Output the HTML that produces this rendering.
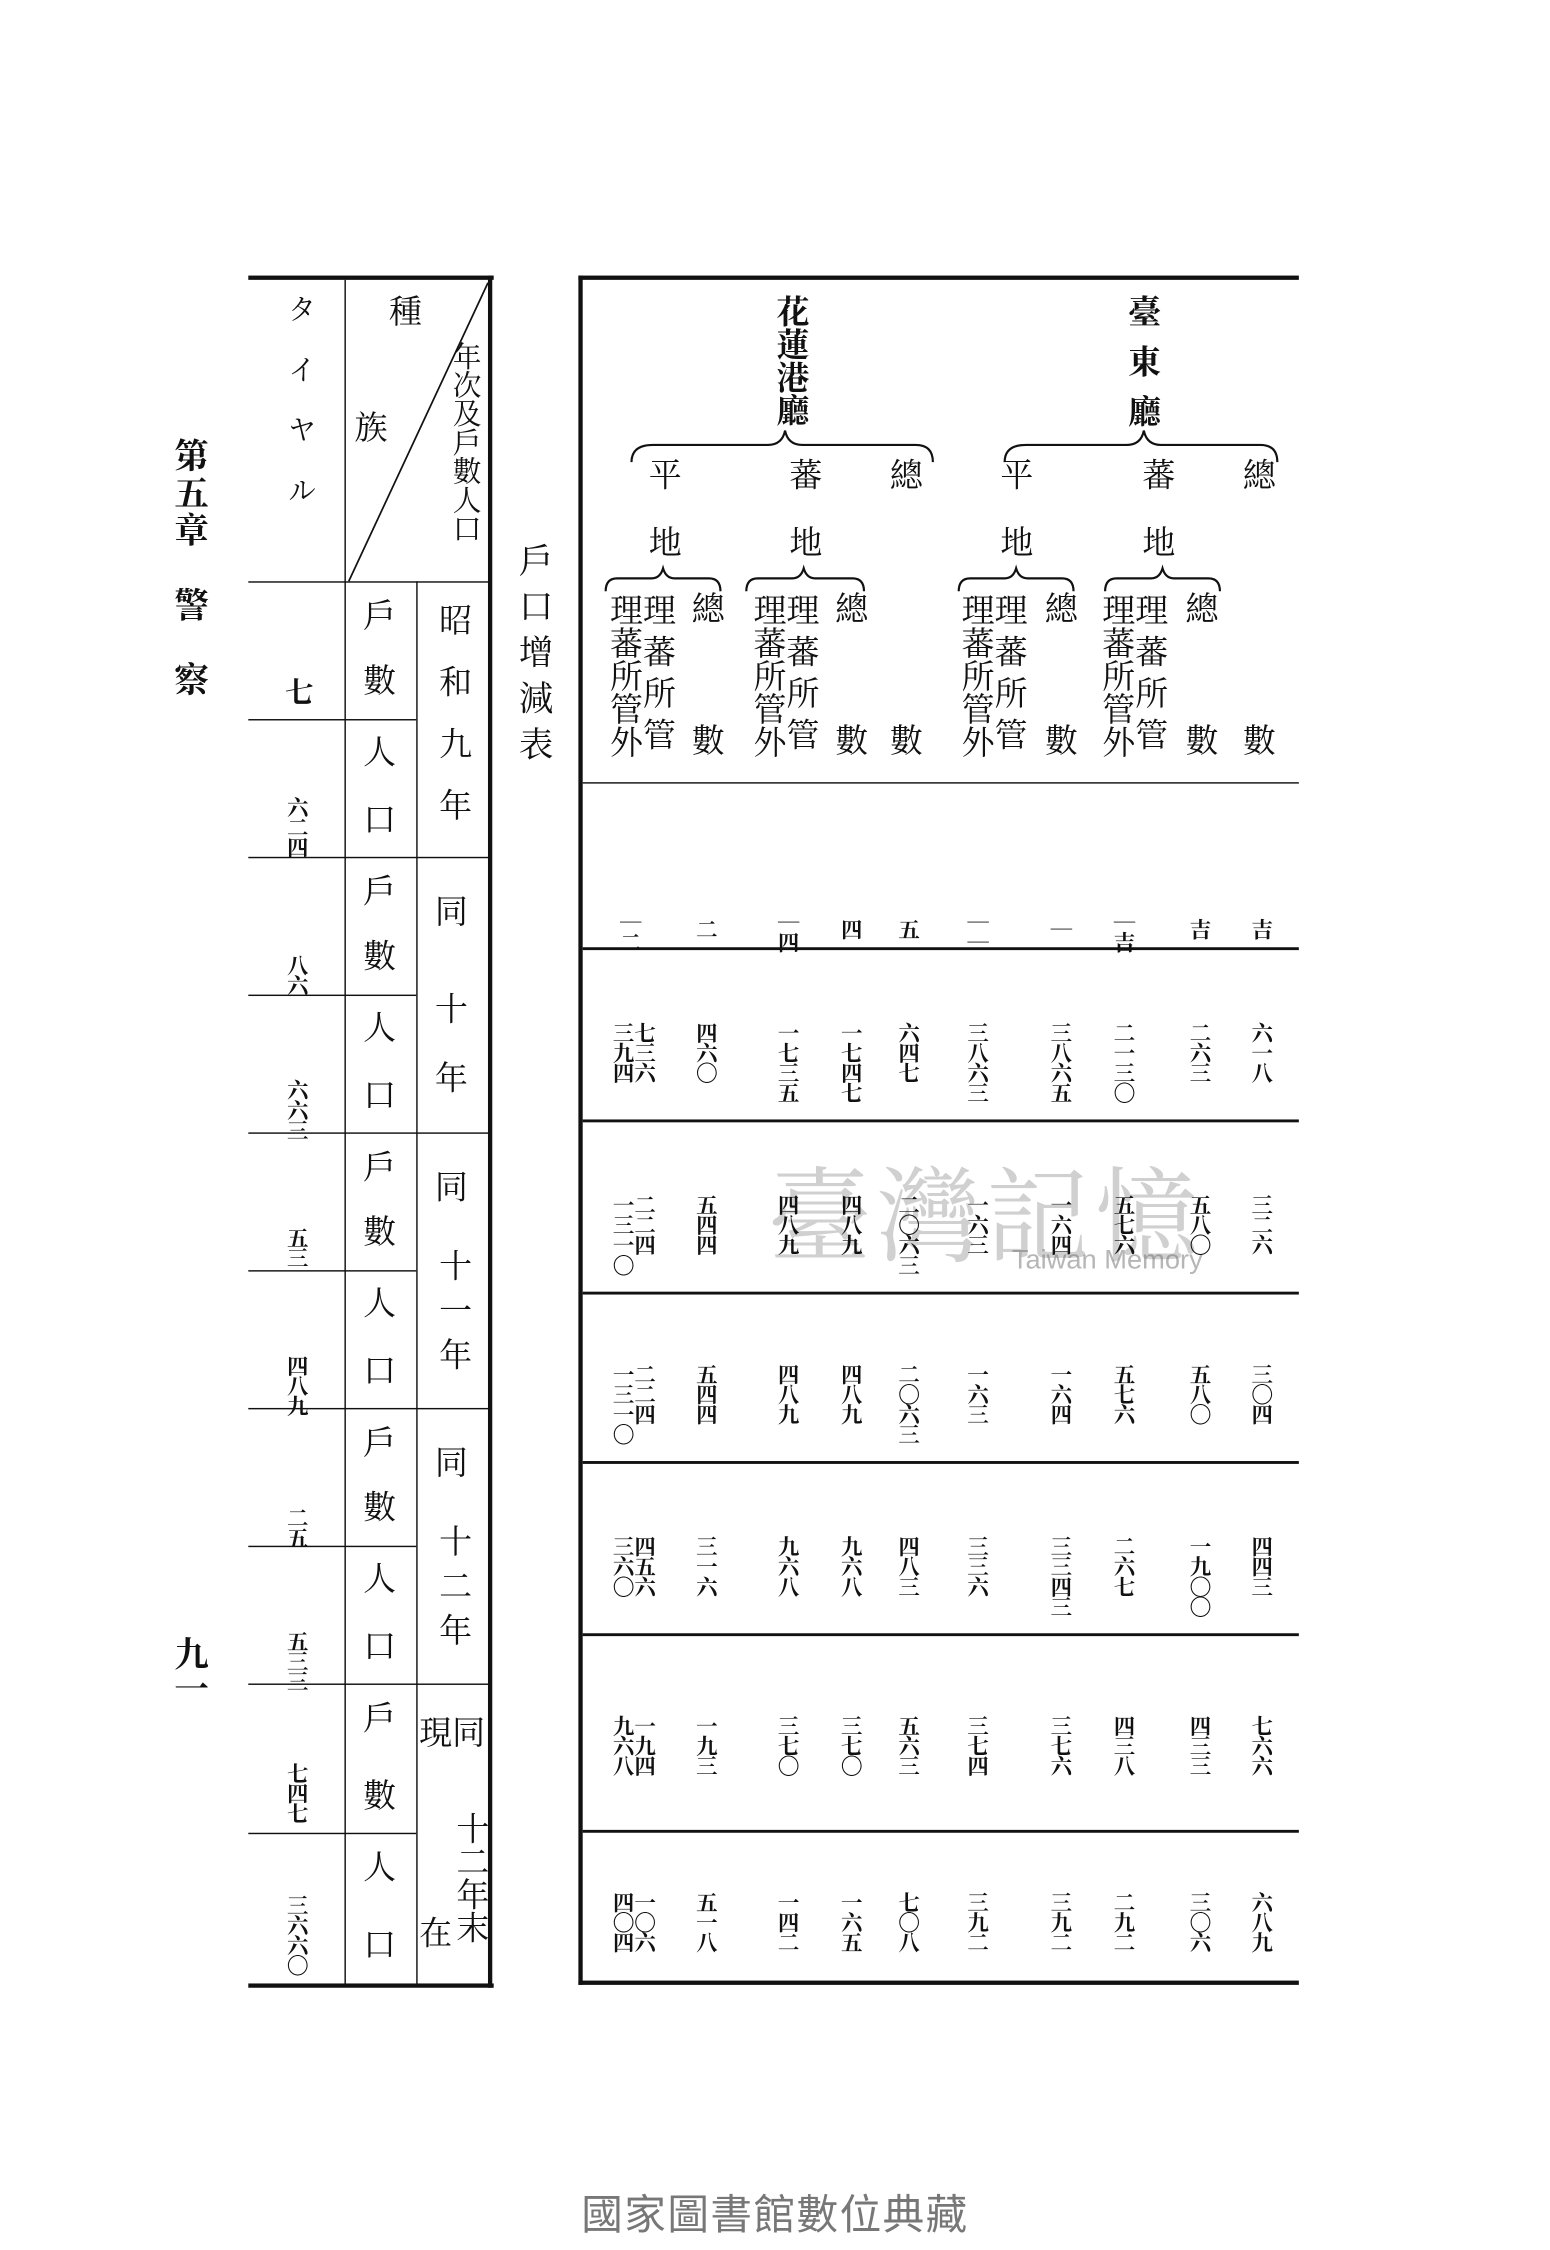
<!DOCTYPE html>
<html><head><meta charset="utf-8">
<style>
html,body{margin:0;padding:0;background:#fff;}
body{width:1550px;height:2250px;overflow:hidden;position:relative;}
#w{position:absolute;left:0;top:0;width:1080px;height:1568px;transform:scale(1.4352);transform-origin:0 0;font-family:"Liberation Serif","Noto Serif CJK SC","Noto Sans CJK JP",serif;color:#111;}
.v{position:absolute;writing-mode:vertical-rl;font-size:23px;line-height:24px;white-space:nowrap;}
.n{position:absolute;writing-mode:vertical-rl;font-size:15px;line-height:15px;letter-spacing:-1px;white-space:nowrap;font-weight:bold;}
.h{position:absolute;background:#111;}
.c{position:absolute;font-size:23px;line-height:24px;}
</style></head><body><div id="w">

<!-- page headings -->
<div class="v" style="left:118px;top:305px;font-size:24px;letter-spacing:2px;font-weight:bold;">第五章　警　察</div>
<div class="v" style="left:118px;top:1140px;font-size:24px;font-weight:bold;">九一</div>
<div class="v" style="left:358px;top:378px;font-size:24px;letter-spacing:8px;">戶口增減表</div>
<div style="position:absolute;left:0;width:1080px;top:1520px;text-align:center;font-family:'Liberation Sans','Noto Sans CJK TC',sans-serif;font-size:29px;color:#777;letter-spacing:1px;">國家圖書館數位典藏</div>
<div style="position:absolute;left:535px;top:790px;font-size:72px;color:rgba(120,120,120,0.35);font-family:'Noto Serif CJK SC',serif;letter-spacing:4px;">臺灣記憶</div>
<div style="position:absolute;left:705px;top:868px;font-size:19px;color:rgba(110,110,110,0.5);font-family:'Liberation Sans',sans-serif;">Taiwan Memory</div>

<!-- LEFT TABLE -->
<div class="h" style="left:173px;top:192px;width:171px;height:3px"></div>
<div class="h" style="left:173px;top:1382px;width:171px;height:3px"></div>
<div class="h" style="left:340px;top:192px;width:3px;height:1193px"></div>
<div class="h" style="left:240px;top:195px;width:1px;height:1188px"></div>
<div class="h" style="left:290px;top:405px;width:1px;height:978px"></div>
<div class="h" style="left:173px;top:405px;width:168px;height:1px"></div>
<svg style="position:absolute;left:0;top:0" width="1080" height="1568"><line x1="340" y1="197" x2="243" y2="405" stroke="#111" stroke-width="1.2"/></svg>
<div class="c" style="left:271px;top:206px">種</div>
<div class="c" style="left:247px;top:287px">族</div>
<div class="v" style="left:312px;top:238px;font-size:20px;line-height:22px;">年次及戶數人口</div>
<div class="v" style="left:196px;top:205px;font-size:20px;letter-spacing:22px;">タイヤル</div>
<!-- row lines -->
<div class="h" style="left:173px;top:501px;width:117px;height:1px"></div>
<div class="h" style="left:173px;top:597px;width:168px;height:1px"></div>
<div class="h" style="left:173px;top:693px;width:117px;height:1px"></div>
<div class="h" style="left:173px;top:789px;width:168px;height:1px"></div>
<div class="h" style="left:173px;top:885px;width:117px;height:1px"></div>
<div class="h" style="left:173px;top:981px;width:168px;height:1px"></div>
<div class="h" style="left:173px;top:1077px;width:117px;height:1px"></div>
<div class="h" style="left:173px;top:1173px;width:168px;height:1px"></div>
<div class="h" style="left:173px;top:1277px;width:117px;height:1px"></div>
<!-- col2 labels -->
<div class="c" style="left:253px;top:418px">戶</div><div class="c" style="left:253px;top:463px">數</div>
<div class="c" style="left:253px;top:513px">人</div><div class="c" style="left:253px;top:560px">口</div>
<div class="c" style="left:253px;top:610px">戶</div><div class="c" style="left:253px;top:655px">數</div>
<div class="c" style="left:253px;top:705px">人</div><div class="c" style="left:253px;top:752px">口</div>
<div class="c" style="left:253px;top:802px">戶</div><div class="c" style="left:253px;top:847px">數</div>
<div class="c" style="left:253px;top:897px">人</div><div class="c" style="left:253px;top:944px">口</div>
<div class="c" style="left:253px;top:994px">戶</div><div class="c" style="left:253px;top:1039px">數</div>
<div class="c" style="left:253px;top:1089px">人</div><div class="c" style="left:253px;top:1136px">口</div>
<div class="c" style="left:253px;top:1186px">戶</div><div class="c" style="left:253px;top:1240px">數</div>
<div class="c" style="left:253px;top:1290px">人</div><div class="c" style="left:253px;top:1344px">口</div>
<!-- year col -->
<div class="v" style="left:303px;top:420px;letter-spacing:20px;">昭和九年</div>
<div class="c" style="left:303px;top:624px">同</div><div class="c" style="left:303px;top:692px">十</div><div class="c" style="left:303px;top:740px">年</div>
<div class="c" style="left:303px;top:816px">同</div><div class="v" style="left:303px;top:870px;letter-spacing:8px;">十一年</div>
<div class="c" style="left:303px;top:1008px">同</div><div class="v" style="left:303px;top:1062px;letter-spacing:8px;">十二年</div>
<div class="c" style="left:315px;top:1196px">同</div><div class="c" style="left:292px;top:1196px">現</div>
<div class="v" style="left:315px;top:1262px;line-height:24px;">十二年末</div><div class="c" style="left:292px;top:1336px">在</div>
<!-- col1 numbers -->
<div class="n" style="left:198px;top:472px;font-size:20px;">七</div>
<div class="n" style="left:198px;top:555px">六二四</div>
<div class="n" style="left:198px;top:665px">八六</div>
<div class="n" style="left:198px;top:752px">六六三</div>
<div class="n" style="left:198px;top:855px">五三</div>
<div class="n" style="left:198px;top:944px">四八九</div>
<div class="n" style="left:198px;top:1050px">二五</div>
<div class="n" style="left:198px;top:1136px">五三三</div>
<div class="n" style="left:198px;top:1228px">七四七</div>
<div class="n" style="left:198px;top:1320px">三六六〇</div>

<!-- RIGHT TABLE -->
<div class="h" style="left:403px;top:192px;width:502px;height:3px"></div>
<div class="h" style="left:403px;top:1380px;width:502px;height:3px"></div>
<div class="h" style="left:403px;top:192px;width:3px;height:1191px"></div>
<div class="h" style="left:406px;top:545px;width:499px;height:1px"></div>
<div class="h" style="left:406px;top:660px;width:499px;height:1.5px"></div>
<div class="h" style="left:406px;top:780px;width:499px;height:1.5px"></div>
<div class="h" style="left:406px;top:900px;width:499px;height:1.5px"></div>
<div class="h" style="left:406px;top:1018px;width:499px;height:1.5px"></div>
<div class="h" style="left:406px;top:1138px;width:499px;height:1.5px"></div>
<div class="h" style="left:406px;top:1275px;width:499px;height:1.5px"></div>
<!-- header -->
<div class="v" style="left:783px;top:205px;letter-spacing:12px;font-weight:bold;">臺東廳</div>
<div class="v" style="left:538px;top:205px;line-height:24px;font-weight:bold;">花蓮港廳</div>
<svg style="position:absolute;left:0;top:0" width="1080" height="1568" fill="none" stroke="#111" stroke-width="1.5">
<path d="M700 322 Q700 310 715 310 L785 310 Q795 310 797 300 Q799 310 809 310 L878 310 Q890 310 890 322"/>
<path d="M440 322 Q440 310 455 310 L535 310 Q545 310 547 300 Q549 310 559 310 L638 310 Q650 310 650 322"/>
<path d="M770 412 Q770 403 778 403 L802 403 Q808 403 810 396 Q812 403 818 403 L842 403 Q850 403 850 412"/>
<path d="M668 412 Q668 403 676 403 L700 403 Q706 403 708 396 Q710 403 716 403 L740 403 Q748 403 748 412"/>
<path d="M520 412 Q520 403 528 403 L552 403 Q558 403 560 396 Q562 403 568 403 L594 403 Q602 403 602 412"/>
<path d="M422 412 Q422 403 430 403 L454 403 Q460 403 462 396 Q464 403 470 403 L494 403 Q502 403 502 412"/>
</svg>
<div class="c" style="left:866px;top:320px">總</div><div class="c" style="left:796px;top:320px">蕃</div><div class="c" style="left:697px;top:320px">平</div>
<div class="c" style="left:796px;top:367px">地</div><div class="c" style="left:697px;top:367px">地</div>
<div class="c" style="left:620px;top:320px">總</div><div class="c" style="left:550px;top:320px">蕃</div><div class="c" style="left:452px;top:320px">平</div>
<div class="c" style="left:550px;top:367px">地</div><div class="c" style="left:452px;top:367px">地</div>
<!-- sub headers -->
<div class="c" style="left:866px;top:505px">數</div>
<div class="c" style="left:826px;top:413px">總</div><div class="c" style="left:826px;top:505px">數</div>
<div class="v" style="left:765px;top:413px;line-height:24px;">理蕃所管外</div>
<div class="v" style="left:788px;top:413px;line-height:24px;letter-spacing:6px;">理蕃所管</div>
<div class="c" style="left:728px;top:413px">總</div><div class="c" style="left:728px;top:505px">數</div>
<div class="v" style="left:667px;top:413px;line-height:24px;">理蕃所管外</div>
<div class="v" style="left:690px;top:413px;line-height:24px;letter-spacing:6px;">理蕃所管</div>
<div class="c" style="left:620px;top:505px">數</div>
<div class="c" style="left:582px;top:413px">總</div><div class="c" style="left:582px;top:505px">數</div>
<div class="v" style="left:522px;top:413px;line-height:24px;">理蕃所管外</div>
<div class="v" style="left:545px;top:413px;line-height:24px;letter-spacing:6px;">理蕃所管</div>
<div class="c" style="left:482px;top:413px">總</div><div class="c" style="left:482px;top:505px">數</div>
<div class="v" style="left:422px;top:413px;line-height:24px;">理蕃所管外</div>
<div class="v" style="left:445px;top:413px;line-height:24px;letter-spacing:6px;">理蕃所管</div>

<!-- data row1 -->
<div class="n" style="left:430px;top:635px">｜二</div><div class="n" style="left:483px;top:640px">二</div>
<div class="n" style="left:540px;top:635px">｜四</div><div class="n" style="left:584px;top:640px">四</div>
<div class="n" style="left:624px;top:640px">五</div><div class="n" style="left:672px;top:635px">｜｜</div>
<div class="n" style="left:730px;top:640px">｜</div><div class="n" style="left:774px;top:635px">｜吉</div>
<div class="n" style="left:827px;top:640px">吉</div><div class="n" style="left:870px;top:640px">吉</div>
<!-- row2 -->
<div class="n" style="left:425px;top:712px">三九四</div><div class="n" style="left:440px;top:712px">七三六</div>
<div class="n" style="left:483px;top:712px">四六〇</div>
<div class="n" style="left:540px;top:712px">一七三五</div><div class="n" style="left:584px;top:712px">一七四七</div>
<div class="n" style="left:624px;top:712px">六四七</div><div class="n" style="left:672px;top:712px">三八六三</div>
<div class="n" style="left:730px;top:712px">三八六五</div><div class="n" style="left:774px;top:712px">二一三〇</div>
<div class="n" style="left:827px;top:712px">二六三</div><div class="n" style="left:870px;top:712px">六一八</div>
<!-- row3 -->
<div class="n" style="left:425px;top:832px">一三一〇</div><div class="n" style="left:440px;top:832px">二二四</div>
<div class="n" style="left:483px;top:832px">五四四</div>
<div class="n" style="left:540px;top:832px">四八九</div><div class="n" style="left:584px;top:832px">四八九</div>
<div class="n" style="left:624px;top:832px">二〇六三</div><div class="n" style="left:672px;top:832px">一六三</div>
<div class="n" style="left:730px;top:832px">一六四</div><div class="n" style="left:774px;top:832px">五七六</div>
<div class="n" style="left:827px;top:832px">五八〇</div><div class="n" style="left:870px;top:832px">三二六</div>
<!-- row4 -->
<div class="n" style="left:425px;top:950px">一三一〇</div><div class="n" style="left:440px;top:950px">二二四</div>
<div class="n" style="left:483px;top:950px">五四四</div>
<div class="n" style="left:540px;top:950px">四八九</div><div class="n" style="left:584px;top:950px">四八九</div>
<div class="n" style="left:624px;top:950px">二〇六三</div><div class="n" style="left:672px;top:950px">一六三</div>
<div class="n" style="left:730px;top:950px">一六四</div><div class="n" style="left:774px;top:950px">五七六</div>
<div class="n" style="left:827px;top:950px">五八〇</div><div class="n" style="left:870px;top:950px">三〇四</div>
<!-- row5 -->
<div class="n" style="left:425px;top:1070px">三六〇</div><div class="n" style="left:440px;top:1070px">四五六</div>
<div class="n" style="left:483px;top:1070px">三一六</div>
<div class="n" style="left:540px;top:1070px">九六八</div><div class="n" style="left:584px;top:1070px">九六八</div>
<div class="n" style="left:624px;top:1070px">四八三</div><div class="n" style="left:672px;top:1070px">三三六</div>
<div class="n" style="left:730px;top:1070px">三三四三</div><div class="n" style="left:774px;top:1070px">二六七</div>
<div class="n" style="left:827px;top:1070px">一九〇〇</div><div class="n" style="left:870px;top:1070px">四四三</div>
<!-- row6 -->
<div class="n" style="left:425px;top:1195px">九六八</div><div class="n" style="left:440px;top:1195px">一九四</div>
<div class="n" style="left:483px;top:1195px">一九三</div>
<div class="n" style="left:540px;top:1195px">三七〇</div><div class="n" style="left:584px;top:1195px">三七〇</div>
<div class="n" style="left:624px;top:1195px">五六三</div><div class="n" style="left:672px;top:1195px">三七四</div>
<div class="n" style="left:730px;top:1195px">三七六</div><div class="n" style="left:774px;top:1195px">四三八</div>
<div class="n" style="left:827px;top:1195px">四三三</div><div class="n" style="left:870px;top:1195px">七六六</div>
<!-- row7 -->
<div class="n" style="left:425px;top:1318px">四〇四</div><div class="n" style="left:440px;top:1318px">一〇六</div>
<div class="n" style="left:483px;top:1318px">五一八</div>
<div class="n" style="left:540px;top:1318px">一四二</div><div class="n" style="left:584px;top:1318px">一六五</div>
<div class="n" style="left:624px;top:1318px">七〇八</div><div class="n" style="left:672px;top:1318px">三九二</div>
<div class="n" style="left:730px;top:1318px">三九二</div><div class="n" style="left:774px;top:1318px">二九二</div>
<div class="n" style="left:827px;top:1318px">三〇六</div><div class="n" style="left:870px;top:1318px">六八九</div>

</div></body></html>
